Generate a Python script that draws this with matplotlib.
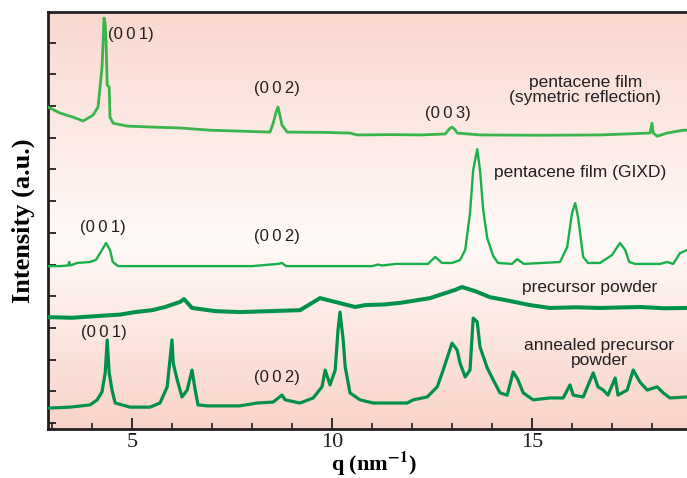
import numpy as np
import matplotlib
matplotlib.use("Agg")
import matplotlib.pyplot as plt
from matplotlib.colors import to_rgb

# pentacene film, symmetric reflection (top trace)
sym_q = [2.90, 3.20, 3.53, 3.78, 4.03, 4.15, 4.20, 4.25, 4.28, 4.30, 4.33, 4.35, 4.38,
         4.43, 4.45, 4.53, 4.88, 5.45, 6.20, 6.95, 7.70, 8.45, 8.53, 8.60, 8.65, 8.70,
         8.75, 8.88, 9.80, 10.45, 10.63, 11.50, 12.20, 12.83, 12.95, 13.00, 13.08, 13.13,
         13.70, 15.20, 16.70, 17.95, 18.00, 18.03, 18.13, 18.38, 18.78, 18.88]
sym_I = [9.97, 9.78, 9.65, 9.53, 9.72, 9.97, 10.57, 11.23, 12.08, 12.78, 12.60, 12.08, 10.66,
         10.60, 9.65, 9.46, 9.37, 9.34, 9.31, 9.24, 9.21, 9.18, 9.46, 9.80, 9.97, 9.70,
         9.40, 9.18, 9.17, 9.15, 9.09, 9.10, 9.09, 9.12, 9.30, 9.34, 9.25, 9.15,
         9.09, 9.08, 9.09, 9.15, 9.46, 9.15, 9.05, 9.15, 9.24, 9.24]

# pentacene film, GIXD
gixd_q = [2.90, 3.20, 3.40, 3.43, 3.46, 3.63, 3.95, 4.10, 4.25, 4.35, 4.45, 4.52, 4.65,
          6.00, 8.00, 8.65, 8.75, 8.85, 11.00, 11.15, 11.25, 11.60, 12.40, 12.58, 12.75,
          13.00, 13.20, 13.33, 13.45, 13.53, 13.63, 13.70, 13.78, 13.88, 14.03, 14.15,
          14.50, 14.63, 14.80, 15.70, 15.88, 16.00, 16.08, 16.15, 16.28, 16.40, 16.70,
          17.00, 17.20, 17.33, 17.43, 17.58, 18.20, 18.38, 18.53, 18.70, 18.88]
gixd_I = [4.95, 4.95, 4.97, 5.08, 4.97, 5.05, 5.08, 5.15, 5.46, 5.68, 5.46, 5.08, 4.95,
          4.95, 4.95, 5.02, 5.05, 4.95, 4.95, 5.00, 4.97, 5.02, 5.02, 5.24, 5.05,
          5.05, 5.14, 5.46, 6.62, 7.98, 8.64, 7.98, 6.72, 5.84, 5.27, 5.05,
          5.02, 5.17, 5.02, 5.08, 5.55, 6.62, 6.94, 6.50, 5.24, 5.05, 5.05,
          5.30, 5.68, 5.46, 5.08, 5.02, 5.02, 5.08, 5.02, 5.36, 5.46]

# precursor powder
prec_q = [2.90, 3.50, 4.20, 4.70, 5.08, 5.50, 5.83, 6.20, 6.30, 6.50, 7.08, 7.70, 8.45,
          9.20, 9.45, 9.70, 10.08, 10.58, 10.83, 11.30, 11.70, 12.45, 13.08, 13.25,
          13.58, 13.95, 14.33, 14.95, 15.45, 16.10, 16.70, 17.70, 18.30, 18.88]
prec_I = [3.34, 3.32, 3.38, 3.42, 3.50, 3.56, 3.66, 3.82, 3.91, 3.63, 3.53, 3.50, 3.53,
          3.56, 3.75, 3.94, 3.82, 3.66, 3.72, 3.74, 3.79, 3.94, 4.20, 4.29,
          4.16, 3.97, 3.88, 3.72, 3.63, 3.65, 3.63, 3.66, 3.62, 3.63]

# annealed precursor powder
ann_q = [2.90, 3.45, 3.95, 4.13, 4.25, 4.33, 4.38, 4.43, 4.50, 4.58, 4.95, 5.45, 5.70,
         5.88, 5.93, 6.00, 6.03, 6.13, 6.25, 6.38, 6.50, 6.58, 6.65, 6.88, 7.70, 8.13,
         8.53, 8.75, 8.83, 9.20, 9.53, 9.75, 9.83, 9.95, 10.08, 10.15, 10.20, 10.28,
         10.33, 10.45, 10.70, 11.03, 11.88, 12.03, 12.38, 12.63, 12.78, 13.00, 13.13,
         13.20, 13.33, 13.45, 13.53, 13.63, 13.70, 13.88, 14.03, 14.20, 14.38, 14.53,
         14.65, 14.78, 15.03, 15.45, 15.78, 15.95, 16.03, 16.28, 16.53, 16.65, 16.78,
         16.90, 17.08, 17.15, 17.38, 17.53, 17.70, 17.88, 18.13, 18.28, 18.45, 18.88]
ann_I = [0.47, 0.50, 0.57, 0.73, 0.98, 1.58, 2.62, 1.58, 1.04, 0.63, 0.50, 0.50, 0.63,
         1.14, 1.77, 2.62, 1.89, 1.36, 0.82, 1.04, 1.67, 1.04, 0.57, 0.54, 0.54, 0.63,
         0.66, 0.88, 0.73, 0.63, 0.79, 1.14, 1.67, 1.20, 1.67, 2.93, 3.50, 2.62,
         1.77, 0.95, 0.73, 0.63, 0.63, 0.73, 0.82, 1.14, 1.67, 2.52, 2.30,
         1.89, 1.45, 1.67, 3.31, 3.19, 2.40, 1.74, 1.36, 0.95, 0.88, 1.61,
         1.36, 0.95, 0.73, 0.79, 0.79, 1.20, 0.88, 0.82, 1.58, 1.14, 1.04,
         0.88, 1.42, 0.88, 1.04, 1.67, 1.29, 1.04, 1.14, 0.95, 0.79, 0.82]

plt.rcParams["mathtext.fontset"] = "stix"

fig = plt.figure(figsize=(6.87, 4.78), dpi=100)
ax = fig.add_axes([48 / 687, 1 - 429 / 478, 1 - 48 / 687, 417 / 478])

# pink / white / pink background gradient
stops = [0.0, 0.45, 1.0]
cols = [to_rgb("#f9d3c9"), to_rgb("#fffaf8"), to_rgb("#fad8d0")]
t = np.linspace(0, 1, 256)
grad = np.stack([np.interp(t, stops, [c[i] for c in cols]) for i in range(3)], axis=-1)
ax.imshow(grad[:, None, :], extent=[0, 1, 0, 1], transform=ax.transAxes,
          aspect="auto", origin="lower", zorder=0)

ax.plot(sym_q, sym_I, color="#39b54a", lw=2.0, zorder=3)
ax.plot(gixd_q, gixd_I, color="#19b04b", lw=1.7, zorder=3)
ax.plot(prec_q, prec_I, color="#00924a", lw=2.9, zorder=3)
ax.plot(ann_q, ann_I, color="#00904a", lw=2.3, zorder=3)

ax.set_xlim(2.9, 18.875)
ax.set_ylim(-0.19, 12.97)

txt = "#231f20"
hkl = dict(fontsize=12, color=txt, family=["Liberation Sans", "DejaVu Sans"],
           ha="center", va="center")
ax.text(4.98, 12.27, "(0\u20090\u20091)", **hkl)
ax.text(8.63, 10.57, "(0\u20090\u20092)", **hkl)
ax.text(12.90, 9.78, "(0\u20090\u20093)", **hkl)
ax.text(4.28, 6.18, "(0\u20090\u20091)", **hkl)
ax.text(8.63, 5.87, "(0\u20090\u20092)", **hkl)
ax.text(4.30, 2.84, "(0\u20090\u20091)", **hkl)
ax.text(8.63, 1.42, "(0\u20090\u20092)", **hkl)

lab = dict(fontsize=12.5, color=txt, family="Liberation Sans",
           ha="center", va="center", linespacing=1.0)
ax.text(16.33, 10.50, "pentacene film\n(symetric reflection)", **lab)
ax.text(16.20, 7.89, "pentacene film (GIXD)", **lab)
ax.text(16.45, 4.26, "precursor powder", **lab)
ax.text(16.68, 2.21, "annealed precursor\npowder", **lab)

ax.set_xlabel(r"q (nm$^{\mathbf{-1}}$)", fontsize=16, fontweight="bold",
              family="Liberation Serif", va="center")
ax.xaxis.set_label_coords(0.51, -0.083)
ax.set_ylabel("Intensity (a.u.)", fontsize=19, fontweight="bold",
              family="Liberation Serif", labelpad=6)

ax.set_xticks([5, 10, 15])
ax.set_xticks(np.arange(3, 19), minor=True)
ax.set_yticks(np.arange(0, 13))
ax.set_yticklabels([])
ax.tick_params(axis="x", which="major", direction="in", length=8, width=1.3,
               labelsize=16, pad=3, colors=txt)
ax.tick_params(axis="x", which="minor", direction="in", length=4, width=1.2, colors=txt)
ax.tick_params(axis="y", direction="in", length=6, width=1.3, colors=txt)
for lbl in ax.get_xticklabels():
    lbl.set_family("Liberation Serif")

for s in ["left", "top", "bottom"]:
    ax.spines[s].set_linewidth(2)
    ax.spines[s].set_color(txt)
ax.spines["right"].set_visible(False)

fig.savefig("out.png", dpi=100)
